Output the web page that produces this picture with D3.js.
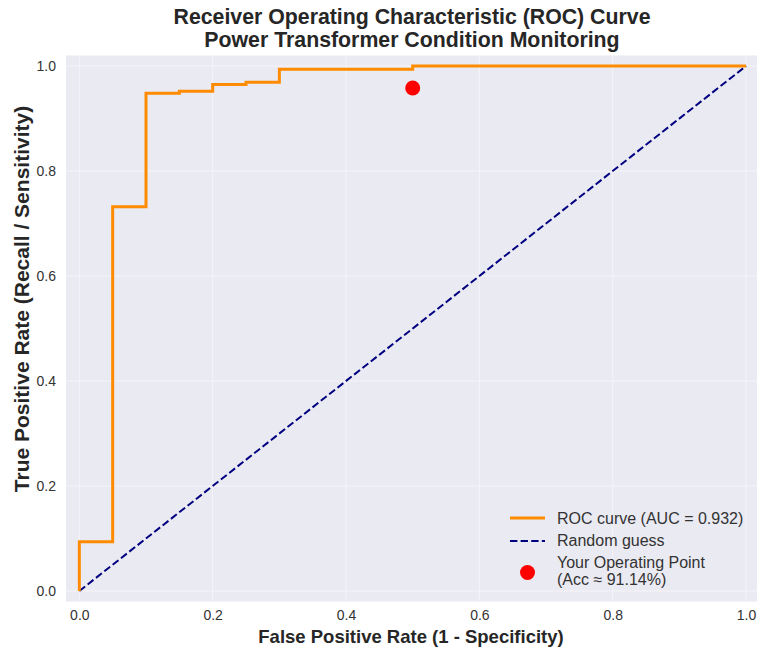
<!DOCTYPE html>
<html><head><meta charset="utf-8">
<script src="https://cdn.jsdelivr.net/npm/d3@7"></script>
<style>body{margin:0;background:#fff;} svg{display:block;font-family:"Liberation Sans",Arial,sans-serif;}</style>
</head><body><svg id="c" width="757" height="650"></svg>
<script>
const rocFPR = [0, 0, 0.05, 0.05, 0.10, 0.10, 0.15, 0.15, 0.20, 0.20, 0.25, 0.25, 0.30, 0.30, 0.50, 0.50, 1.0];
const rocTPR = [0, 0.094, 0.094, 0.732, 0.732, 0.948, 0.948, 0.952, 0.952, 0.965, 0.965, 0.969, 0.969, 0.994, 0.994, 1.0, 1.0];
const diagFPR = [0, 1];
const diagTPR = [0, 1];
const opPoint = [0.5, 0.958];
const ticks = [0, 0.2, 0.4, 0.6, 0.8, 1.0];
const tickLabels = ["0.0", "0.2", "0.4", "0.6", "0.8", "1.0"];
const titleLines = ["Receiver Operating Characteristic (ROC) Curve", "Power Transformer Condition Monitoring"];
const legendLabels = ["ROC curve (AUC = 0.932)", "Random guess", "Your Operating Point", "(Acc \u2248 91.14%)"];

const svg = d3.select("#c");
const x = d3.scaleLinear().domain([-0.02, 1.02]).range([66, 759.4]);
const y = d3.scaleLinear().domain([-0.02, 1.02]).range([601.5, 55.5]);
const txt = "#262626";

svg.append("rect").attr("x", x(-0.02)).attr("y", y(1.02)).attr("width", x(1.02) - x(-0.02)).attr("height", y(-0.02) - y(1.02)).attr("fill", "#EAEAF2");

const g = svg.append("g");
ticks.forEach(t => {
  g.append("line").attr("x1", x(t)).attr("x2", x(t)).attr("y1", y(1.02)).attr("y2", y(-0.02)).attr("stroke", "#f4f4f8").attr("stroke-width", 1);
  g.append("line").attr("y1", y(t)).attr("y2", y(t)).attr("x1", x(-0.02)).attr("x2", x(1.02)).attr("stroke", "#f4f4f8").attr("stroke-width", 1);
});

const xAxis = d3.axisBottom(x).tickValues(ticks).tickFormat((d, i) => tickLabels[i]).tickSize(0).tickPadding(9);
const yAxis = d3.axisLeft(y).tickValues(ticks).tickFormat((d, i) => tickLabels[i]).tickSize(0).tickPadding(10);
const gx = svg.append("g").attr("transform", `translate(0,${y(-0.02)})`).call(xAxis);
const gy = svg.append("g").attr("transform", `translate(${x(-0.02)},0)`).call(yAxis);
[gx, gy].forEach(a => { a.select(".domain").remove(); a.selectAll("text").attr("fill", "#333").style("font-size", "14px").style("font-family", "Liberation Sans, Arial, sans-serif"); });

const line = d3.line().x(d => x(d[0])).y(d => y(d[1]));
svg.append("path").datum(diagFPR.map((v, i) => [v, diagTPR[i]])).attr("d", line).attr("fill", "none").attr("stroke", "#000080").attr("stroke-width", 2).attr("stroke-dasharray", "7.4,3.2");
svg.append("path").datum(rocFPR.map((v, i) => [v, rocTPR[i]])).attr("d", line).attr("fill", "none").attr("stroke", "#FF8C00").attr("stroke-width", 3).attr("stroke-linejoin", "miter");
svg.append("circle").attr("cx", x(opPoint[0])).attr("cy", y(opPoint[1])).attr("r", 7.5).attr("fill", "#FF0000");

// titles
titleLines.forEach((t, i) => {
  svg.append("text").attr("x", 412).attr("y", 24 + i * 23).attr("text-anchor", "middle").attr("fill", txt).style("font-size", "21.3px").style("font-weight", "bold").text(t);
});
svg.append("text").attr("x", 411).attr("y", 643).attr("text-anchor", "middle").attr("fill", txt).style("font-size", "18.5px").style("font-weight", "bold").text("False Positive Rate (1 - Specificity)");
svg.append("text").attr("transform", "translate(28.5,299) rotate(-90)").attr("text-anchor", "middle").attr("fill", txt).style("font-size", "21px").style("font-weight", "bold").text("True Positive Rate (Recall / Sensitivity)");

// legend
const lg = svg.append("g");
lg.append("line").attr("x1", 510).attr("x2", 545).attr("y1", 518).attr("y2", 518).attr("stroke", "#FF8C00").attr("stroke-width", 3);
lg.append("line").attr("x1", 510).attr("x2", 545).attr("y1", 541).attr("y2", 541).attr("stroke", "#000080").attr("stroke-width", 2).attr("stroke-dasharray", "7.4,3.2");
lg.append("circle").attr("cx", 527.5).attr("cy", 572.5).attr("r", 7.5).attr("fill", "#FF0000");
const ly = [523.5, 546, 568, 584.5];
legendLabels.forEach((t, i) => {
  lg.append("text").attr("x", 557).attr("y", ly[i]).attr("fill", "#333").style("font-size", "16px").text(t);
});
</script></body></html>
